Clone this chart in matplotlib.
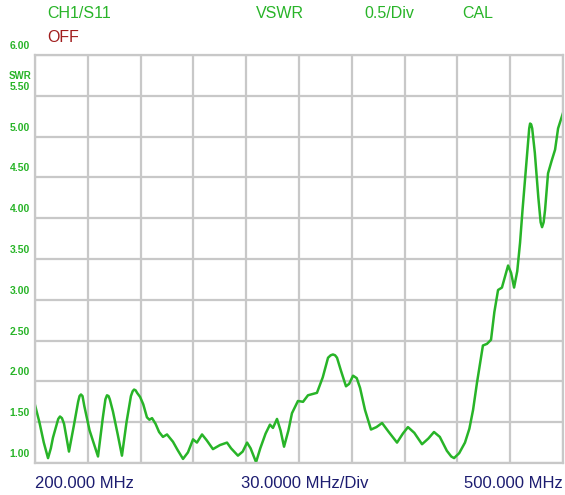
import numpy as np
import matplotlib
matplotlib.use("Agg")
import matplotlib.pyplot as plt
from matplotlib.transforms import offset_copy

# sweep trace
freq_mhz = [200.0, 202.5, 205.0, 207.4, 209.0, 210.2, 212.0, 213.2, 214.2, 215.3, 216.5, 219.3,
            222.0, 224.5, 225.3, 226.1, 227.0, 228.0, 231.0, 235.8, 238.5, 240.0, 240.9, 241.8,
            242.5, 244.3, 247.0, 249.4, 252.0, 254.5, 255.5, 256.3, 257.2, 258.0, 259.7,
            261.5, 263.6, 265.0, 266.5, 268.5, 270.5, 272.7, 275.0, 278.4, 281.0, 284.1,
            286.9, 289.8, 292.0, 294.9, 297.5, 301.1, 305.1, 309.1, 311.4, 315.3, 318.0,
            320.5, 322.5, 325.6, 328.0, 331.0, 333.5, 335.2, 337.5, 339.5, 341.5, 344.0,
            346.0, 349.4, 352.3, 355.1, 360.2, 363.5, 366.5, 368.0, 369.3, 370.5, 371.6, 374.0,
            376.7, 378.5, 380.7, 382.8, 384.7, 387.5, 390.9, 394.0, 397.2, 401.0,
            405.7, 409.0, 411.9, 415.5, 419.9, 423.5, 426.7, 430.0, 434.0, 436.5, 438.1,
            441.0, 444.3, 446.8, 448.9, 451.1, 454.5, 456.8, 459.1, 461.0, 463.1,
            465.3, 467.0, 468.8, 470.5, 472.2, 474.0, 475.6, 477.0, 478.4, 480.0,
            480.8, 481.3, 481.9, 482.5, 484.0, 486.0, 487.3, 488.1, 489.0, 489.8, 491.5,
            493.5, 495.5, 497.2, 500.0]
vswr = [1.71, 1.50, 1.25, 1.06, 1.18, 1.31, 1.45, 1.54, 1.57, 1.55, 1.48, 1.14,
        1.45, 1.75, 1.82, 1.84, 1.82, 1.70, 1.40, 1.08, 1.55, 1.78, 1.83, 1.82,
        1.78, 1.63, 1.35, 1.09, 1.50, 1.82, 1.88, 1.90, 1.89, 1.86, 1.81,
        1.72, 1.56, 1.53, 1.55, 1.48, 1.38, 1.32, 1.35, 1.26, 1.16, 1.05,
        1.13, 1.29, 1.25, 1.35, 1.28, 1.17, 1.22, 1.25, 1.18, 1.09, 1.14,
        1.25, 1.18, 1.01, 1.18, 1.36, 1.47, 1.43, 1.54, 1.40, 1.20, 1.40,
        1.61, 1.76, 1.75, 1.83, 1.86, 2.05, 2.29, 2.32, 2.33, 2.32, 2.29, 2.12,
        1.94, 1.97, 2.07, 2.04, 1.92, 1.65, 1.41, 1.44, 1.49, 1.38,
        1.25, 1.36, 1.44, 1.37, 1.23, 1.30, 1.38, 1.32, 1.15, 1.08, 1.06,
        1.12, 1.25, 1.42, 1.65, 1.98, 2.44, 2.46, 2.51, 2.85, 3.12,
        3.15, 3.28, 3.42, 3.33, 3.15, 3.35, 3.70, 4.10, 4.47, 4.90,
        5.10, 5.16, 5.15, 5.10, 4.80, 4.25, 3.95, 3.89, 3.95, 4.10, 4.55,
        4.70, 4.84, 5.10, 5.29]

x_start, x_step = 200.0, 30.0
y_min, y_max, y_step = 1.0, 6.0, 0.5
y_ticks = np.arange(y_min, y_max + 0.01, y_step)

green = "#28b428"
gray = "#c8c8c8"
W, H = 565, 495

fig = plt.figure(figsize=(W / 100, H / 100), dpi=100)
ax = fig.add_axes([35 / W, (H - 463) / H, 528 / W, 408 / H])
ax.set_xlim(x_start, x_start + 10 * x_step)
ax.set_ylim(y_min, y_max)
ax.set_xticks(np.arange(x_start, x_start + 10 * x_step + 1, x_step))
ax.set_yticks(y_ticks)
ax.tick_params(length=0, labelleft=False, labelbottom=False)
ax.grid(True, color=gray, linewidth=1.6)
for s in ax.spines.values():
    s.set_color(gray)
    s.set_linewidth(1.6)

ax.plot(freq_mhz, vswr, color=green, linewidth=1.8, solid_joinstyle="round")

# y labels sit a bit above their grid lines, left of the frame
lab_tr = offset_copy(ax.get_yaxis_transform(), fig=fig, x=-5, y=9, units="dots")
for v in y_ticks:
    ax.text(0, v, "%.2f" % v, transform=lab_tr, ha="right", va="center",
            fontsize=7.5, color=green, family="Liberation Sans", fontweight="bold")

def px(x, y, s, color, size, ha="left", weight="normal"):
    fig.text(x / W, 1 - y / H, s, color=color, fontsize=size, ha=ha, va="center",
             family="Liberation Sans", fontweight=weight)

px(9, 76, "SWR", green, 7, weight="bold")
px(47, 14, "CH1/S11", green, 11.5)
px(47, 37, "OFF", "#a01c1c", 11.5)
px(256, 14, "VSWR", green, 11.5)
px(364, 14, "0.5/Div", green, 11.5)
px(462, 14, "CAL", green, 11.5)
px(35, 484, "200.000 MHz", "#1c1c70", 12)
px(305, 484, "30.0000 MHz/Div", "#1c1c70", 12, ha="center")
px(563, 484, "500.000 MHz", "#1c1c70", 12, ha="right")

fig.savefig("out.png", dpi=100, facecolor="white")
